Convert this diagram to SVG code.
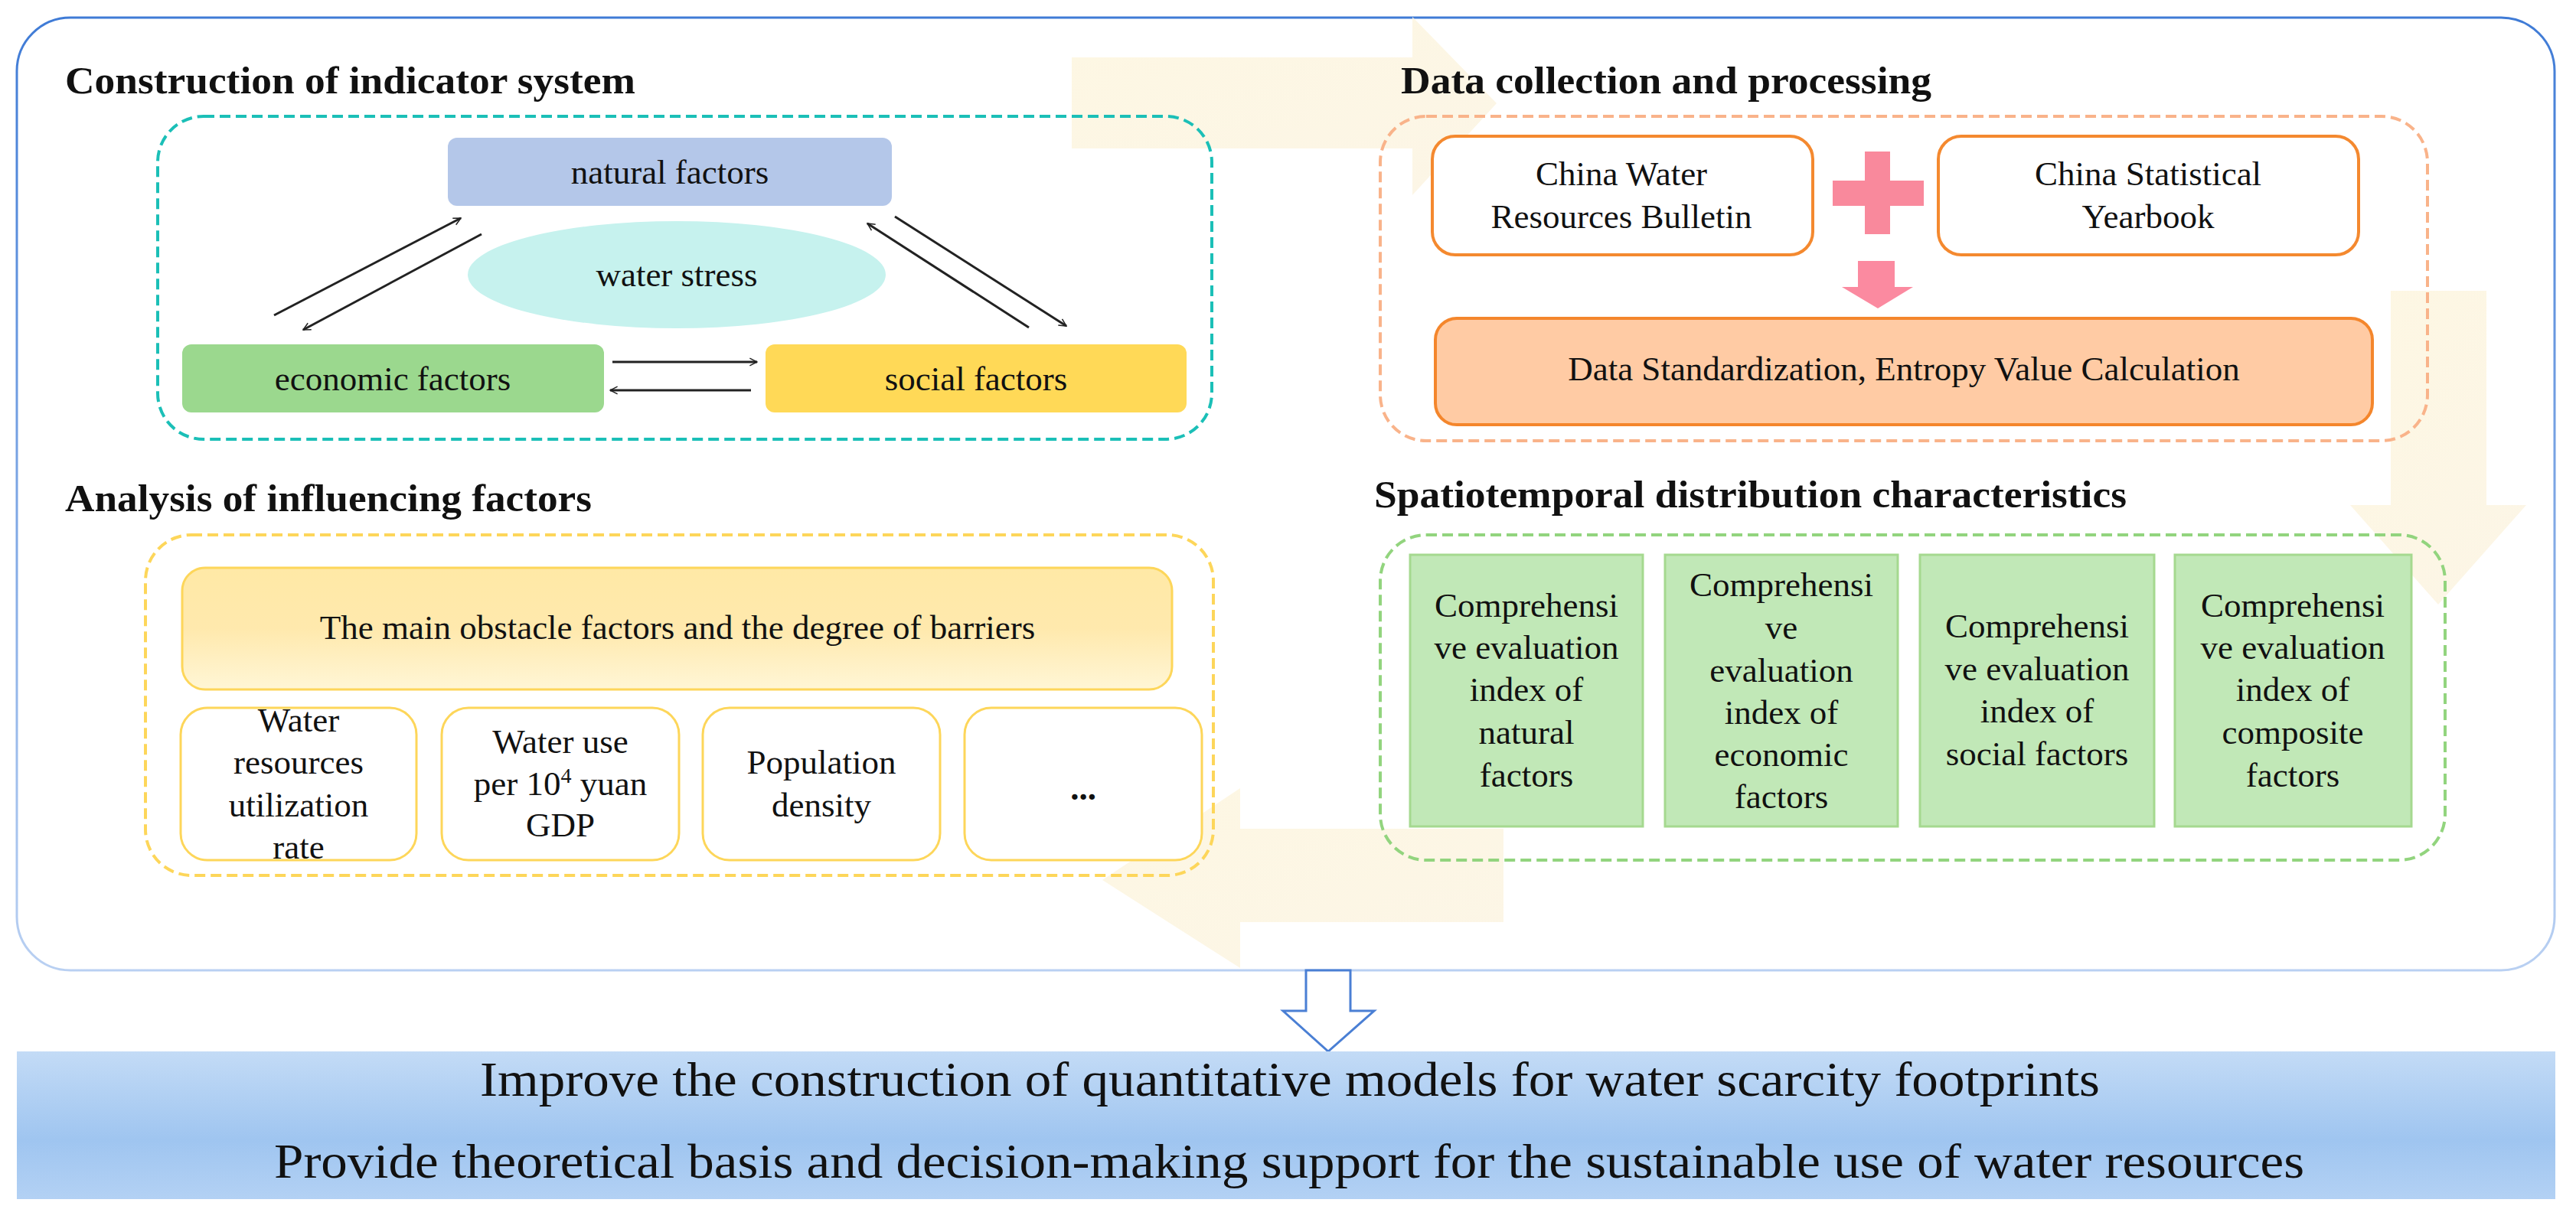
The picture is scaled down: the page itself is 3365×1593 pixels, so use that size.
<svg xmlns="http://www.w3.org/2000/svg" width="3365" height="1593" viewBox="0 0 3365 1593">
<defs>
<style>
text{font-family:"Liberation Serif","Times New Roman",serif;fill:#111;text-anchor:middle}
.h{font-weight:bold;font-size:50px;text-anchor:start}
.t{font-size:45px}
.b{font-size:64px}
.ln{stroke:#222;stroke-width:3;fill:none}
</style>
<linearGradient id="outer" x1="0" y1="0" x2="0" y2="1"><stop offset="0" stop-color="#3f7bd6"/><stop offset="1" stop-color="#b9d0f2"/></linearGradient>
<linearGradient id="band" x1="0" y1="0" x2="0" y2="1"><stop offset="0" stop-color="#c3dbf6"/><stop offset="0.6" stop-color="#9fc5f0"/><stop offset="1" stop-color="#b3d1f4"/></linearGradient>
<linearGradient id="mainbar" x1="0" y1="0" x2="0" y2="1"><stop offset="0" stop-color="#ffe9a6"/><stop offset="0.5" stop-color="#ffe9ad"/><stop offset="1" stop-color="#fff6d6"/></linearGradient>
<linearGradient id="faint" x1="0" y1="0" x2="1" y2="1"><stop offset="0" stop-color="#fdf5dc"/><stop offset="1" stop-color="#fbf3e0"/></linearGradient>
<marker id="ah" viewBox="0 0 20 20" refX="18" refY="10" markerWidth="12" markerHeight="12" markerUnits="userSpaceOnUse" orient="auto"><path d="M2,2 L18,10 L2,18" fill="none" stroke="#222" stroke-width="2.5"/></marker>
</defs>
<rect width="3365" height="1593" fill="#fff"/>
<rect x="22" y="23" width="3315" height="1245" rx="70" fill="#fff" stroke="url(#outer)" stroke-width="3"/>
<g id="bg-cycle" opacity="0.8">
<polygon points="1400,75 1845,75 1845,22 1955,135 1845,255 1845,194 1400,194" fill="url(#faint)"/>
<polygon points="3123,380 3248,380 3248,660 3300,660 3185,790 3070,660 3123,660" fill="url(#faint)"/>
<polygon points="1964,1083 1964,1205 1620,1205 1620,1265 1440,1150 1620,1030 1620,1083" fill="url(#faint)"/>
</g>
<text class="h" x="85" y="122" textLength="745" lengthAdjust="spacingAndGlyphs">Construction of indicator system</text>
<text class="h" x="1830" y="122" textLength="693" lengthAdjust="spacingAndGlyphs">Data collection and processing</text>
<text class="h" x="85" y="668" textLength="688" lengthAdjust="spacingAndGlyphs">Analysis of influencing factors</text>
<text class="h" x="1795" y="663" textLength="983" lengthAdjust="spacingAndGlyphs">Spatiotemporal distribution characteristics</text>
<rect x="206" y="152" width="1377" height="422" rx="60" fill="none" stroke="#1bbfb7" stroke-width="4" stroke-dasharray="14,7"/>
<rect x="1803" y="152" width="1368" height="424" rx="60" fill="none" stroke="#f9b38a" stroke-width="4" stroke-dasharray="14,7"/>
<rect x="190" y="699" width="1395" height="445" rx="60" fill="none" stroke="#fdd65a" stroke-width="4" stroke-dasharray="14,7"/>
<rect x="1803" y="699" width="1391" height="425" rx="60" fill="none" stroke="#92d47e" stroke-width="4" stroke-dasharray="14,7"/>
<g id="water-stress"><ellipse cx="884" cy="359" rx="273" ry="70" fill="#c6f2ee"/><text class="t" x="884" y="374">water stress</text></g>
<g id="natural"><rect x="585" y="180" width="580" height="89" rx="12" fill="#b4c7e9"/><text class="t" x="875" y="240">natural factors</text></g>
<g id="economic"><rect x="238" y="450" width="551" height="89" rx="12" fill="#9bd88e"/><text class="t" x="513" y="510">economic factors</text></g>
<g id="social"><rect x="1000" y="450" width="550" height="89" rx="12" fill="#ffd957"/><text class="t" x="1275" y="510">social factors</text></g>
<g id="connectors">
<line class="ln" x1="358" y1="412" x2="602" y2="285" marker-end="url(#ah)"/>
<line class="ln" x1="629" y1="306" x2="396" y2="431" marker-end="url(#ah)"/>
<line class="ln" x1="1344" y1="428" x2="1133" y2="292" marker-end="url(#ah)"/>
<line class="ln" x1="1169" y1="283" x2="1393" y2="426" marker-end="url(#ah)"/>
<line class="ln" x1="800" y1="473" x2="989" y2="473" marker-end="url(#ah)"/>
<line class="ln" x1="981" y1="510" x2="797" y2="510" marker-end="url(#ah)"/>
<path d="M2436,198 H2469 V236 H2513 V269 H2469 V306 H2436 V269 H2394 V236 H2436 Z" fill="#f9899c"/>
<path d="M2427,341 H2475 V375 H2499 L2453,403 L2406,375 H2427 Z" fill="#fb8aa0"/>
<path d="M1706,1268 H1764 V1321 H1795 L1735,1374 L1676,1321 H1706 Z" fill="#fff" stroke="#4a7fd4" stroke-width="3"/>
</g>
<g id="cwrb"><rect x="1871" y="178" width="497" height="155" rx="30" fill="#fff" stroke="#f4892f" stroke-width="4"/><text class="t" x="2118" y="242">China Water</text><text class="t" x="2118" y="298">Resources Bulletin</text></g>
<g id="csy"><rect x="2532" y="178" width="549" height="155" rx="30" fill="#fff" stroke="#f4892f" stroke-width="4"/><text class="t" x="2806" y="242">China Statistical</text><text class="t" x="2806" y="298">Yearbook</text></g>
<g id="datastd"><rect x="1875" y="416" width="1224" height="139" rx="28" fill="#ffcba4" stroke="#f4862c" stroke-width="4"/><text class="t" x="2487" y="497">Data Standardization, Entropy Value Calculation</text></g>
<g id="mainobstacle"><rect x="238" y="742" width="1293" height="159" rx="30" fill="url(#mainbar)" stroke="#fdd65a" stroke-width="3"/><text class="t" x="885" y="835">The main obstacle factors and the degree of barriers</text></g>
<g id="f1"><rect x="236" y="925" width="308" height="199" rx="35" fill="#fff" stroke="#fdd65a" stroke-width="3"/><text class="t" x="390" y="956">Water</text><text class="t" x="390" y="1011">resources</text><text class="t" x="390" y="1067">utilization</text><text class="t" x="390" y="1122">rate</text></g>
<g id="f2"><rect x="577" y="925" width="310" height="199" rx="35" fill="#fff" stroke="#fdd65a" stroke-width="3"/><text class="t" x="732" y="984">Water use</text><text class="t" x="732" y="1039">per 10<tspan font-size="28" dy="-16">4</tspan><tspan dy="16"> yuan</tspan></text><text class="t" x="732" y="1093">GDP</text></g>
<g id="f3"><rect x="918" y="925" width="310" height="199" rx="35" fill="#fff" stroke="#fdd65a" stroke-width="3"/><text class="t" x="1073" y="1011">Population</text><text class="t" x="1073" y="1067">density</text></g>
<g id="f4"><rect x="1260" y="925" width="310" height="199" rx="35" fill="#fff" stroke="#fdd65a" stroke-width="3"/><text class="t" x="1415" y="1045" font-weight="bold">...</text></g>
<g id="g1"><rect x="1842" y="725" width="304" height="355" fill="#c1e8b7" stroke="#a5d98f" stroke-width="3"/><text class="t" x="1994" y="806">Comprehensi</text><text class="t" x="1994" y="861">ve evaluation</text><text class="t" x="1994" y="916">index of</text><text class="t" x="1994" y="972">natural</text><text class="t" x="1994" y="1028">factors</text></g>
<g id="g2"><rect x="2175" y="725" width="304" height="355" fill="#c1e8b7" stroke="#a5d98f" stroke-width="3"/><text class="t" x="2327" y="779">Comprehensi</text><text class="t" x="2327" y="835">ve</text><text class="t" x="2327" y="891">evaluation</text><text class="t" x="2327" y="946">index of</text><text class="t" x="2327" y="1001">economic</text><text class="t" x="2327" y="1056">factors</text></g>
<g id="g3"><rect x="2508" y="725" width="306" height="355" fill="#c1e8b7" stroke="#a5d98f" stroke-width="3"/><text class="t" x="2661" y="833">Comprehensi</text><text class="t" x="2661" y="889">ve evaluation</text><text class="t" x="2661" y="944">index of</text><text class="t" x="2661" y="1000">social factors</text></g>
<g id="g4"><rect x="2841" y="725" width="309" height="355" fill="#c1e8b7" stroke="#a5d98f" stroke-width="3"/><text class="t" x="2995" y="806">Comprehensi</text><text class="t" x="2995" y="861">ve evaluation</text><text class="t" x="2995" y="916">index of</text><text class="t" x="2995" y="972">composite</text><text class="t" x="2995" y="1028">factors</text></g>
<g id="conclusion"><rect x="22" y="1374" width="3316" height="193" fill="url(#band)"/>
<text class="b" x="1685" y="1432" textLength="2116" lengthAdjust="spacingAndGlyphs">Improve the construction of quantitative models for water scarcity footprints</text>
<text class="b" x="1684" y="1539" textLength="2652" lengthAdjust="spacingAndGlyphs">Provide theoretical basis and decision-making support for the sustainable use of water resources</text></g>
</svg>
